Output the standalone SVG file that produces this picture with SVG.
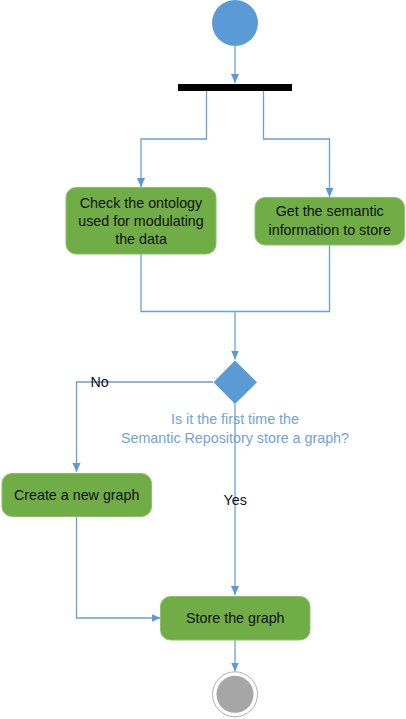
<svg xmlns="http://www.w3.org/2000/svg" width="406" height="719" viewBox="0 0 406 719">
<defs>
<style>
.edge{fill:none;stroke:#6a9fd8;stroke-width:1.3}
.box{fill:#70ad47;stroke:#8cc06a;stroke-width:1}
.t{font-family:"Liberation Sans",Arial,sans-serif;font-size:14.3px;fill:#111;text-anchor:middle}
.q{font-family:"Liberation Sans",Arial,sans-serif;font-size:14.3px;fill:#6fa3dc;text-anchor:middle}
.lbl{font-family:"Liberation Sans",Arial,sans-serif;font-size:14.3px;fill:#111}
</style>
<marker id="ah" markerWidth="10" markerHeight="10" refX="9" refY="5" orient="auto" markerUnits="userSpaceOnUse">
<path d="M0,1 L9,5 L0,9 Z" fill="#5b9bd5"/>
</marker>
</defs>
<rect width="406" height="719" fill="#fff"/>

<g id="connectors">
<path class="edge" d="M235,46 V83" marker-end="url(#ah)"/>
<path class="edge" d="M206.5,91 V139 H141 V187" marker-end="url(#ah)"/>
<path class="edge" d="M263.5,91 V139 H329.5 V197" marker-end="url(#ah)"/>
<path class="edge" d="M141,254 V311.5 H329.5 V245"/>
<path class="edge" d="M235,311.5 V359.5" marker-end="url(#ah)"/>
<path class="edge" d="M213,382 H76.5 V472" marker-end="url(#ah)"/>
<path class="edge" d="M76.5,517 V618 H160.5" marker-end="url(#ah)"/>
<path class="edge" d="M235,640 V671.5" marker-end="url(#ah)"/>
</g>

<g id="start">
<circle cx="235" cy="23" r="23" fill="#5b9bd5"/>
</g>

<g id="fork">
<rect x="178" y="84" width="114" height="7" fill="#000"/>
</g>

<g id="check-ontology">
<rect class="box" x="66" y="187.5" width="150" height="66.5" rx="10"/>
<text class="t" x="141" y="207.5">Check the ontology</text>
<text class="t" x="141" y="225.8">used for modulating</text>
<text class="t" x="141" y="244.2">the data</text>
</g>

<g id="get-semantic">
<rect class="box" x="255" y="197.5" width="149.5" height="47.5" rx="10"/>
<text class="t" x="329.7" y="216.2">Get the semantic</text>
<text class="t" x="329.7" y="234.5">information to store</text>
</g>

<g id="decision">
<polygon points="235,360.5 257,382.3 235,404 213.5,382.3" fill="#5b9bd5"/>
<text class="q" x="235" y="423.5">Is it the first time the</text>
<text class="q" x="235" y="443">Semantic Repository store a graph?</text>
</g>

<g id="yes-edge">
<path class="edge" d="M235,404 V595" marker-end="url(#ah)"/>
</g>

<g id="labels">
<text class="lbl" x="90.5" y="387">No</text>
<text class="lbl" x="223.5" y="504.5">Yes</text>
</g>

<g id="create-graph">
<rect class="box" x="2" y="473.5" width="149.5" height="43" rx="10"/>
<text class="t" x="76.7" y="500">Create a new graph</text>
</g>

<g id="store-graph">
<rect class="box" x="160.5" y="596.5" width="149.5" height="43.5" rx="10"/>
<text class="t" x="235.3" y="622.8">Store the graph</text>
</g>

<g id="end">
<circle cx="235" cy="694.3" r="22.5" fill="#fff" stroke="#b0b0b0" stroke-width="1"/>
<circle cx="235" cy="694.3" r="18.5" fill="#a6a6a6"/>
</g>
</svg>
